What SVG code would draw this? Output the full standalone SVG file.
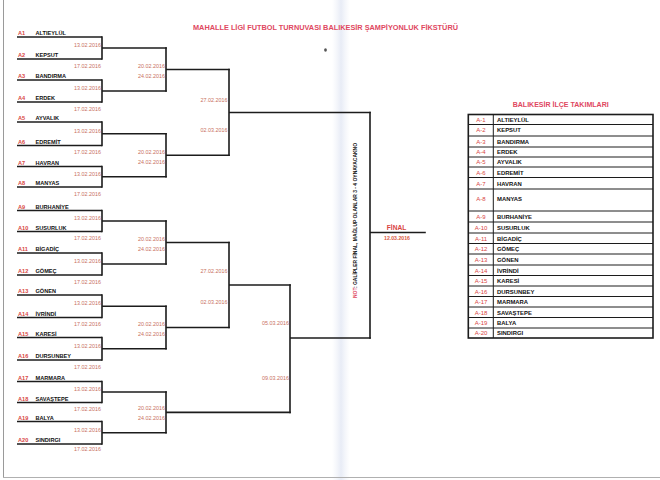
<svg xmlns="http://www.w3.org/2000/svg" width="660" height="480" viewBox="0 0 660 480">
<style>
.ln{stroke:#1c1c1c;stroke-width:1.6;fill:none;stroke-linecap:square}
.tl{stroke:#1c1c1c;stroke-width:1.6;fill:none}
.code{font-family:"Liberation Sans",Arial,sans-serif;font-weight:bold;font-size:5.6px;fill:#d8463f}
.nm{font-family:"Liberation Sans",Arial,sans-serif;font-weight:bold;font-size:5.6px;fill:#111}
.dt{font-family:"Liberation Sans",Arial,sans-serif;font-size:5.4px;fill:#c8705e;text-anchor:end}
.tc{font-family:"Liberation Sans",Arial,sans-serif;font-size:6px;fill:#d8463f;text-anchor:middle}
.tn{font-family:"Liberation Sans",Arial,sans-serif;font-weight:bold;font-size:5.9px;fill:#111}
.grid{stroke:#1c1c1c;stroke-width:1;fill:none}
</style>
<defs>
<linearGradient id="fold" x1="0" x2="1" y1="0" y2="0">
<stop offset="0" stop-color="#eef1f8" stop-opacity="0"/>
<stop offset="0.5" stop-color="#e8ecf6" stop-opacity="1"/>
<stop offset="1" stop-color="#eef1f8" stop-opacity="0"/>
</linearGradient>
</defs>
<rect width="660" height="480" fill="#ffffff"/>
<rect x="332" y="0" width="18" height="480" fill="url(#fold)"/>
<line x1="3.5" y1="0" x2="3.5" y2="478" stroke="#9a9a9a" stroke-width="1"/>
<line x1="3" y1="477.5" x2="660" y2="477.5" stroke="#b0b0b0" stroke-width="1"/>

<text x="325.5" y="30" font-family="Liberation Sans,Arial,sans-serif" font-weight="bold" font-size="7.6" fill="#e0485f" text-anchor="middle" textLength="265" lengthAdjust="spacingAndGlyphs">MAHALLE LİGİ FUTBOL TURNUVASI BALIKESİR ŞAMPİYONLUK FİKSTÜRÜ</text>
<ellipse cx="325.5" cy="50" rx="1.4" ry="1.8" fill="#555"/>

<g id="teams">
<g id="team-a1"><line class="tl" x1="17" y1="37" x2="102" y2="37"/><text class="code" x="18" y="35">A1</text><text class="nm" x="35.5" y="35">ALTIEYLÜL</text></g>
<g id="team-a2"><line class="tl" x1="17" y1="59" x2="102" y2="59"/><text class="code" x="18" y="57">A2</text><text class="nm" x="35.5" y="57">KEPSUT</text></g>
<g id="team-a3"><line class="tl" x1="17" y1="80" x2="102" y2="80"/><text class="code" x="18" y="78">A3</text><text class="nm" x="35.5" y="78">BANDIRMA</text></g>
<g id="team-a4"><line class="tl" x1="17" y1="102" x2="102" y2="102"/><text class="code" x="18" y="100">A4</text><text class="nm" x="35.5" y="100">ERDEK</text></g>
<g id="team-a5"><line class="tl" x1="17" y1="122" x2="102" y2="122"/><text class="code" x="18" y="120">A5</text><text class="nm" x="35.5" y="120">AYVALIK</text></g>
<g id="team-a6"><line class="tl" x1="17" y1="145.5" x2="102" y2="145.5"/><text class="code" x="18" y="143.5">A6</text><text class="nm" x="35.5" y="143.5">EDREMİT</text></g>
<g id="team-a7"><line class="tl" x1="17" y1="166.5" x2="102" y2="166.5"/><text class="code" x="18" y="164.5">A7</text><text class="nm" x="35.5" y="164.5">HAVRAN</text></g>
<g id="team-a8"><line class="tl" x1="17" y1="187" x2="102" y2="187"/><text class="code" x="18" y="185">A8</text><text class="nm" x="35.5" y="185">MANYAS</text></g>
<g id="team-a9"><line class="tl" x1="17" y1="210.5" x2="102" y2="210.5"/><text class="code" x="18" y="208.5">A9</text><text class="nm" x="35.5" y="208.5">BURHANİYE</text></g>
<g id="team-a10"><line class="tl" x1="17" y1="231.5" x2="102" y2="231.5"/><text class="code" x="18" y="229.5">A10</text><text class="nm" x="35.5" y="229.5">SUSURLUK</text></g>
<g id="team-a11"><line class="tl" x1="17" y1="253" x2="102" y2="253"/><text class="code" x="18" y="251">A11</text><text class="nm" x="35.5" y="251">BİGADİÇ</text></g>
<g id="team-a12"><line class="tl" x1="17" y1="275" x2="102" y2="275"/><text class="code" x="18" y="273">A12</text><text class="nm" x="35.5" y="273">GÖMEÇ</text></g>
<g id="team-a13"><line class="tl" x1="17" y1="295" x2="102" y2="295"/><text class="code" x="18" y="293">A13</text><text class="nm" x="35.5" y="293">GÖNEN</text></g>
<g id="team-a14"><line class="tl" x1="17" y1="317.5" x2="102" y2="317.5"/><text class="code" x="18" y="315.5">A14</text><text class="nm" x="35.5" y="315.5">İVRİNDİ</text></g>
<g id="team-a15"><line class="tl" x1="17" y1="337.5" x2="102" y2="337.5"/><text class="code" x="18" y="335.5">A15</text><text class="nm" x="35.5" y="335.5">KARESİ</text></g>
<g id="team-a16"><line class="tl" x1="17" y1="360" x2="102" y2="360"/><text class="code" x="18" y="358">A16</text><text class="nm" x="35.5" y="358">DURSUNBEY</text></g>
<g id="team-a17"><line class="tl" x1="17" y1="381.5" x2="102" y2="381.5"/><text class="code" x="18" y="379.5">A17</text><text class="nm" x="35.5" y="379.5">MARMARA</text></g>
<g id="team-a18"><line class="tl" x1="17" y1="402.5" x2="102" y2="402.5"/><text class="code" x="18" y="400.5">A18</text><text class="nm" x="35.5" y="400.5">SAVAŞTEPE</text></g>
<g id="team-a19"><line class="tl" x1="17" y1="421.5" x2="102" y2="421.5"/><text class="code" x="18" y="419.5">A19</text><text class="nm" x="35.5" y="419.5">BALYA</text></g>
<g id="team-a20"><line class="tl" x1="17" y1="444" x2="102" y2="444"/><text class="code" x="18" y="442">A20</text><text class="nm" x="35.5" y="442">SINDIRGI</text></g>
</g>

<g id="connectors">
<path class="ln" d="M102,37V59M102,48H166 M102,80V102M102,91H166 M102,122V145.5M102,133.75H166 M102,166.5V187M102,176.75H166 M102,210.5V231.5M102,221H166 M102,253V275M102,264H166 M102,295V317.5M102,306.25H166 M102,337.5V360M102,348.75H166 M102,381.5V402.5M102,392H166 M102,421.5V444M102,432.75H166"/>
<path class="ln" d="M166,48V91M166,69.5H229 M166,133.75V176.75M166,155.25H229 M166,221V264M166,242.5H229 M166,306.25V348.75M166,327.5H229 M166,392V432.75M166,412.4H290"/>
<path class="ln" d="M229,69.5V155.25M229,112.5H370 M229,242.5V327.5M229,285H290"/>
<path class="ln" d="M290,285V412.4M290,338H370"/>
<path class="ln" d="M370,112.5V338M370,232.5H425"/>
</g>

<g id="dates">
<text class="dt" x="101" y="47">13.02.2016</text><text class="dt" x="101" y="67.8">17.02.2016</text>
<text class="dt" x="101" y="90">13.02.2016</text><text class="dt" x="101" y="110.5">17.02.2016</text>
<text class="dt" x="101" y="132.7">13.02.2016</text><text class="dt" x="101" y="154">17.02.2016</text>
<text class="dt" x="101" y="175.7">13.02.2016</text><text class="dt" x="101" y="195.5">17.02.2016</text>
<text class="dt" x="101" y="220">13.02.2016</text><text class="dt" x="101" y="240">17.02.2016</text>
<text class="dt" x="101" y="263">13.02.2016</text><text class="dt" x="101" y="283.5">17.02.2016</text>
<text class="dt" x="101" y="305.2">13.02.2016</text><text class="dt" x="101" y="326">17.02.2016</text>
<text class="dt" x="101" y="347.7">13.02.2016</text><text class="dt" x="101" y="368.5">17.02.2016</text>
<text class="dt" x="101" y="391">13.02.2016</text><text class="dt" x="101" y="411">17.02.2016</text>
<text class="dt" x="101" y="431.7">13.02.2016</text><text class="dt" x="101" y="451">17.02.2016</text>
<text class="dt" x="165" y="68">20.02.2016</text><text class="dt" x="165" y="78">24.02.2016</text>
<text class="dt" x="165" y="153.7">20.02.2016</text><text class="dt" x="165" y="163.7">24.02.2016</text>
<text class="dt" x="165" y="241">20.02.2016</text><text class="dt" x="165" y="251">24.02.2016</text>
<text class="dt" x="165" y="326">20.02.2016</text><text class="dt" x="165" y="336">24.02.2016</text>
<text class="dt" x="165" y="410">20.02.2016</text><text class="dt" x="165" y="419.5">24.02.2016</text>
<text class="dt" x="227.5" y="102">27.02.2016</text><text class="dt" x="227.5" y="132">02.03.2016</text>
<text class="dt" x="227.5" y="272.7">27.02.2016</text><text class="dt" x="227.5" y="304.3">02.03.2016</text>
<text class="dt" x="289" y="325">05.03.2016</text><text class="dt" x="289" y="379.7">09.03.2016</text>
</g>

<g id="final">
<text x="396.5" y="230.3" font-family="Liberation Sans,Arial,sans-serif" font-weight="bold" font-size="6.6" fill="#d9443f" text-anchor="middle">FİNAL</text>
<text x="397" y="240" font-family="Liberation Sans,Arial,sans-serif" font-weight="bold" font-size="5.2" fill="#d9583f" text-anchor="middle">12.03.2016</text>
</g>

<g id="note">
<text transform="translate(357,298) rotate(-90)" font-family="Liberation Sans,Arial,sans-serif" font-weight="bold" font-size="5.4" fill="#111" textLength="155" lengthAdjust="spacingAndGlyphs"><tspan fill="#e0485f">NOT</tspan>: GALİPLER FİNAL, MAĞLUP OLANLAR 3 - 4 OYNAYACAKNO</text>
</g>

<g id="table">
<text x="560.7" y="106.5" font-family="Liberation Sans,Arial,sans-serif" font-weight="bold" font-size="7" fill="#e0485f" text-anchor="middle" textLength="96" lengthAdjust="spacingAndGlyphs">BALIKESİR İLÇE TAKIMLARI</text>
<rect x="468.3" y="114.5" width="184.7" height="223.5" fill="none" stroke="#1c1c1c" stroke-width="1.6"/>
<path class="grid" d="M493.3,114.5V338 M468.3,124.5H653 M468.3,136H653 M468.3,147H653 M468.3,157H653 M468.3,167H653 M468.3,177.5H653 M468.3,189H653 M468.3,211H653 M468.3,222H653 M468.3,233H653 M468.3,243.5H653 M468.3,254H653 M468.3,265H653 M468.3,275.5H653 M468.3,286H653 M468.3,296.5H653 M468.3,307H653 M468.3,317.5H653 M468.3,328H653"/>
<g id="row-1"><text class="tc" x="481" y="121.7">A-1</text><text class="tn" x="497" y="121.7">ALTIEYLÜL</text></g>
<g id="row-2"><text class="tc" x="481" y="132.3">A-2</text><text class="tn" x="497" y="132.3">KEPSUT</text></g>
<g id="row-3"><text class="tc" x="481" y="143.5">A-3</text><text class="tn" x="497" y="143.5">BANDIRMA</text></g>
<g id="row-4"><text class="tc" x="481" y="154">A-4</text><text class="tn" x="497" y="154">ERDEK</text></g>
<g id="row-5"><text class="tc" x="481" y="164.2">A-5</text><text class="tn" x="497" y="164.2">AYVALIK</text></g>
<g id="row-6"><text class="tc" x="481" y="174.8">A-6</text><text class="tn" x="497" y="174.8">EDREMİT</text></g>
<g id="row-7"><text class="tc" x="481" y="185.7">A-7</text><text class="tn" x="497" y="185.7">HAVRAN</text></g>
<g id="row-8"><text class="tc" x="481" y="201">A-8</text><text class="tn" x="497" y="201">MANYAS</text></g>
<g id="row-9"><text class="tc" x="481" y="219">A-9</text><text class="tn" x="497" y="219">BURHANİYE</text></g>
<g id="row-10"><text class="tc" x="481" y="229.8">A-10</text><text class="tn" x="497" y="229.8">SUSURLUK</text></g>
<g id="row-11"><text class="tc" x="481" y="240.5">A-11</text><text class="tn" x="497" y="240.5">BİGADİÇ</text></g>
<g id="row-12"><text class="tc" x="481" y="250.8">A-12</text><text class="tn" x="497" y="250.8">GÖMEÇ</text></g>
<g id="row-13"><text class="tc" x="481" y="261.8">A-13</text><text class="tn" x="497" y="261.8">GÖNEN</text></g>
<g id="row-14"><text class="tc" x="481" y="272.5">A-14</text><text class="tn" x="497" y="272.5">İVRİNDİ</text></g>
<g id="row-15"><text class="tc" x="481" y="283">A-15</text><text class="tn" x="497" y="283">KARESİ</text></g>
<g id="row-16"><text class="tc" x="481" y="293.5">A-16</text><text class="tn" x="497" y="293.5">DURSUNBEY</text></g>
<g id="row-17"><text class="tc" x="481" y="304">A-17</text><text class="tn" x="497" y="304">MARMARA</text></g>
<g id="row-18"><text class="tc" x="481" y="314.5">A-18</text><text class="tn" x="497" y="314.5">SAVAŞTEPE</text></g>
<g id="row-19"><text class="tc" x="481" y="325">A-19</text><text class="tn" x="497" y="325">BALYA</text></g>
<g id="row-20"><text class="tc" x="481" y="335.3">A-20</text><text class="tn" x="497" y="335.3">SINDIRGI</text></g>
</g>
</svg>
